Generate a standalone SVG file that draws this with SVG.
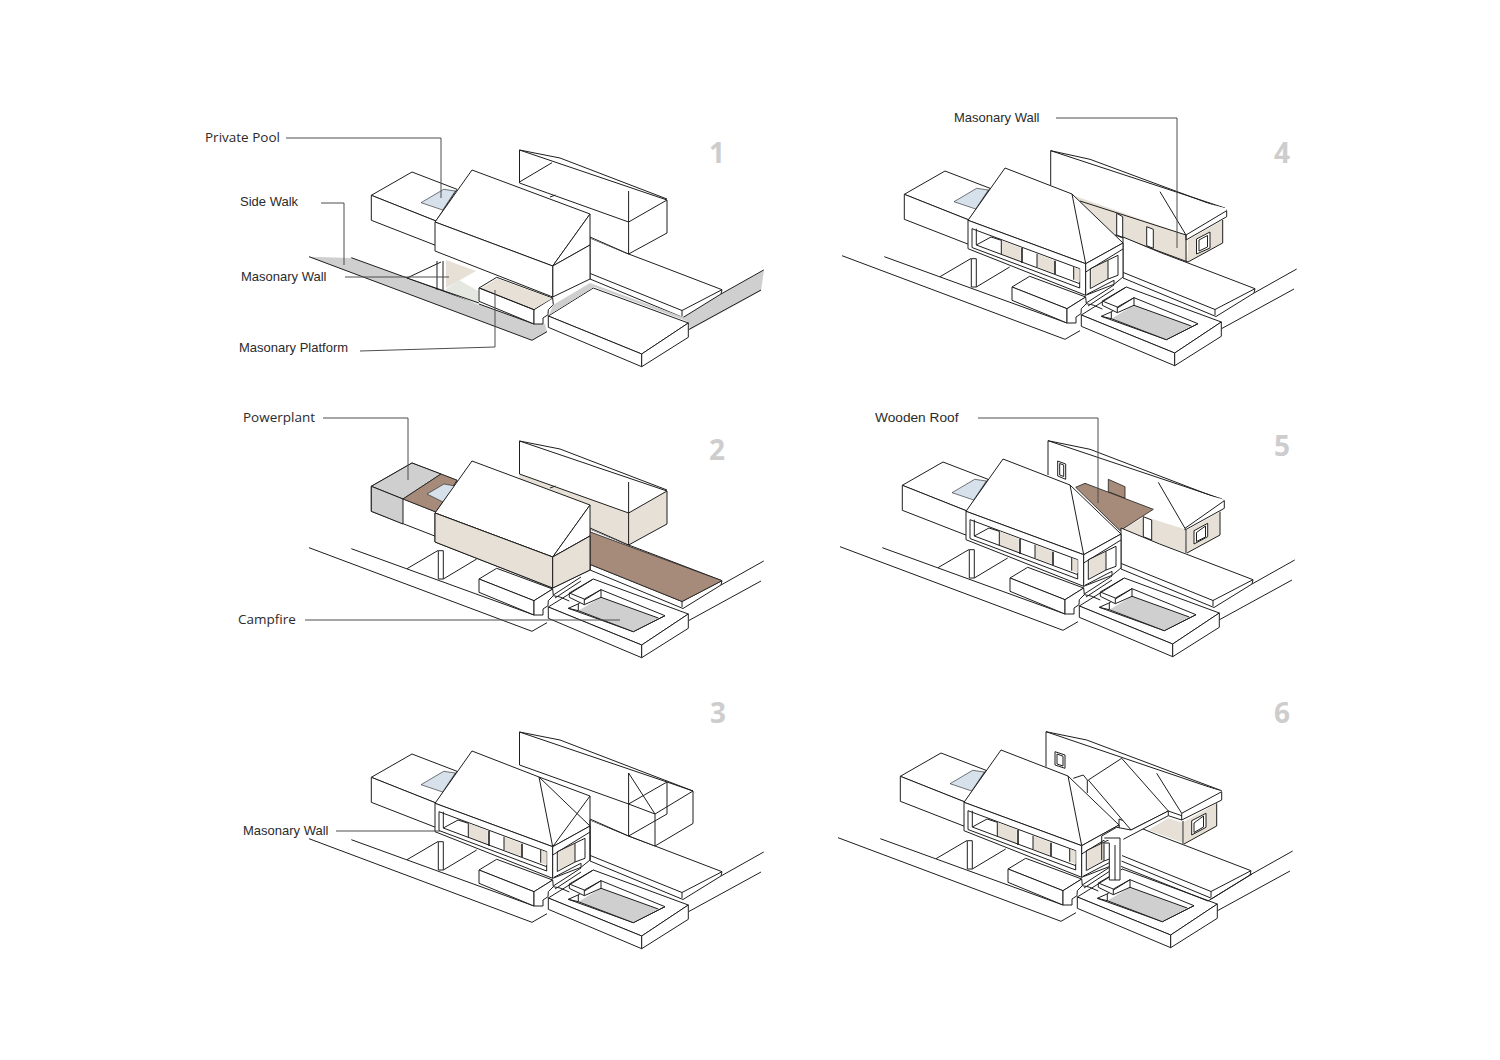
<svg xmlns="http://www.w3.org/2000/svg" width="1500" height="1060" viewBox="0 0 1500 1060">
<style>
.s{fill:none;stroke:#1e1e1e;stroke-width:1;stroke-linejoin:round}
.d{fill:none;stroke:#1e1e1e;stroke-width:1.6}
.f{fill:#fff;stroke:#1e1e1e;stroke-width:1;stroke-linejoin:round}
.w{fill:#fff;stroke:none}
.t{fill:#e7e0d6;stroke:none}
.tl{fill:#e7e0d6;stroke:#1e1e1e;stroke-width:1;stroke-linejoin:round}
.b{fill:#a78b7a;stroke:#1e1e1e;stroke-width:.8}
.g{fill:#cfcfcf;stroke:none}
.gl{fill:#cfcfcf;stroke:#1e1e1e;stroke-width:1}
.k{fill:#d6e1ec;stroke:#1e1e1e;stroke-width:.6}
.le{fill:none;stroke:#4d4d4d;stroke-width:1}
.a{font-family:"Liberation Sans",Arial,sans-serif;font-size:13px;fill:#2b2b2b}
.r{font-size:13.7px}
.o{font-family:"Open Sans","Noto Sans",sans-serif;font-size:13.5px;fill:#2b2b2b}
.n{font-family:"Open Sans","Noto Sans",sans-serif;font-size:28px;font-weight:700;fill:#cdcdcd;text-anchor:middle}
</style>
<defs>
<g id="roads"><path class="s" d="M309 838.7L532 922.3L547 913.7M351.3 839.7L534 906M721 876L763.7 852M688.5 911.7L761 872"/></g>
<g id="deck">
<path class="f" d="M590 820L628.6 836L655 846L722 871.7L721 876L683 899.5L590 861Z"/>
<path class="s" d="M590.3 855.5L682 892.5L722 871.7M682 892.5V898"/>
</g>
<g id="annex">
<path class="f" d="M371.3 777.3L412 754L457 771.3L436 803Z"/>
<path class="f" d="M371.3 777.3L436 803V827.5L371.3 802.3Z"/>
</g>
<path id="sky" class="k" d="M421 784.7L443.7 771.3L455.3 773L442.7 792Z"/>
<g id="carport">
<path class="s" d="M407 859.7L438 841.5M443.3 870L476.7 850"/>
<path class="f" d="M438.3 841.7H443.3V870H438.3Z"/>
</g>
<g id="platform">
<path class="f" d="M479 870L496.7 859.3L552.7 880L534 891.7Z"/>
<path class="f" d="M479 870L534 891.7V906L479 883.3Z"/>
<path class="f" d="M534 891.7L552.7 880L553.3 886.7L548.3 891.7L548 896.7L543 900V906H534Z"/>
</g>
<g id="poolbox">
<path class="f" d="M548.3 898L593.3 870L688.3 905L641.7 936Z"/>
<path class="f" d="M548.3 898L641.7 936V948.7L548.3 909.3Z"/>
<path class="f" d="M641.7 936L688.3 905V919.3L641.7 948.7Z"/>
</g>
<g id="poolrim">
<path class="s" d="M553.3 886L581 868M555 889L581 872M553.3 886.7L560 888L569.3 892"/>
<path class="f" d="M601 880.7L665 906.7L633.3 922.7L568.3 899.3L578 895Z"/>
<path class="g" d="M601 888.3L658.3 909L633.3 922.7L578.3 901.7Z"/>
<path class="s" d="M601 880.7V888.3L658.3 909M601 888.3L584.3 895.7M578.3 895V901.7L633.3 922.7L665 906.7M568.3 899.3L578.3 901.7"/>
<path class="f" d="M569.3 884L584.3 890V895.7L569.3 888.3Z"/>
<path class="s" d="M569.3 884L593.3 870M584.3 890L601 880.7"/>
</g>
<g id="gable">
<path class="f" d="M472 752L590 796L552.7 848L435 804Z"/>
<path class="f" d="M590 796L552.7 848L590 827Z"/>
<path class="f" d="M552.7 848L590 827V861L552.7 879Z"/>
<path class="f" d="M435 804L552.7 848V879L435 833Z"/>
</g>
<g id="wingfill"><path class="w" d="M519.5 732L560 740L667 781V815L628.6 836L590 820L519.5 790Z"/></g>
<g id="winglines"><path class="s" d="M519.5 732V765M519.5 732L560 740L667 781M519.5 732L667 782M628.6 773V836M628.6 804L667 782V815L628.6 836L590 819M519.5 765L628.6 804M550 779L555.5 777"/></g>
<g id="hip">
<path class="f" d="M472 751L539 777L590 826L552.7 846.7L435 803.3Z"/>
<path class="s" d="M539 777L552.7 846.7"/>
<path class="f" d="M435 803.3L552.7 846.7V878.3L435 831.7Z"/>
<path class="f" d="M552.7 846.7L590 826V860L581 867.3L552.7 878.3Z"/>
<path class="f" d="M439 811.7L546.7 851.7V871L439 830.5Z"/>
<path class="t" d="M468.3 823.3L487.7 830.7V845L468.3 837.3Z"/>
<path class="t" d="M504 836.7L521 843.3V856L504 850Z"/>
<path class="t" d="M540.7 850L546.7 852.3V865L540.7 862.7Z"/>
<path class="s" d="M443.3 811.7V828M443.3 828L458 820L468.3 823.3M443.3 828L546.7 866.7M468.3 823.3V837.3M504 836.7V850M540.7 850V862.7"/>
<path class="d" d="M489 831V846M522 843.7V857"/>
<path class="s" d="M552.7 855L590 832M557.3 851.7V871.5"/>
<path class="t" d="M558.3 851.7L575 843.3V861.7L558.3 870Z"/>
<path class="s" d="M557.3 871.5L575 862L585 858.3V838.3L557.3 851.7M575 843.3V862M554 877.3L581 863.3V867.3"/>
</g>
</defs>

<g id="panel-1">
<g transform="translate(0,-582)">
<path class="g" d="M309 838.7L352 840L534 906H545L547 913.7L532 922.3Z"/>
<path class="g" d="M683 899L721 876L764 852L761 873L690 912L689 906Z"/>
<use href="#roads"/><use href="#deck"/>
<use href="#wingfill"/><use href="#winglines"/>
<path class="s" d="M520 763.7L552 744.7"/>
<use href="#annex"/><use href="#sky"/>
<path class="w" d="M407 859.7L437 842H445L479 852V887L445 873Z"/>
<path class="t" d="M446 842L476 853L446 870Z"/>
<path d="M445 872L459 862L478 873V887Z" fill="#e5e7e1"/>
<path class="s" d="M407 860L441 844M407 860L479 885"/>
<path class="s" d="M437 843V872M443 843V872"/>
<use href="#platform"/>
<path class="t" d="M481 870.5L497 860.5L552 880.5L534 891Z"/>
<path class="s" d="M481 870.5L534 891.7"/>
<use href="#poolbox"/>
<path class="g" d="M553 887L590 865L683 899L689 904L594 869L549 897Z"/>
<use href="#gable"/>
</g>
<path class="le" d="M286 138H441V198M321 203H344V265M345 277H449M360 351L495 347V290"/>
<text class="o" x="205" y="142">Private Pool</text>
<text class="a" x="240" y="206">Side Walk</text>
<text class="a" x="241" y="281">Masonary Wall</text>
<text class="a" x="239" y="352">Masonary Platform</text>
<text class="n" x="717" y="163">1</text>
</g>

<g id="panel-2">
<g transform="translate(0,-291)">
<use href="#roads"/><use href="#deck"/>
<path class="b" d="M589 822.5L722 871.7L682 892.5L589 855Z"/>
<use href="#wingfill"/>
<path class="t" d="M519.5 765L628.6 804V836L590 820L519.5 790Z"/>
<path class="t" d="M628.6 804L667 782V815L628.6 836Z"/>
<use href="#winglines"/>
<use href="#annex"/>
<path class="gl" d="M371.3 777.3L412 754L441 765L403 790Z"/>
<path class="gl" d="M371.3 777.3L403 790V815L371.3 802.3Z"/>
<path class="b" d="M403 790L441 765L457 771.3L436 803Z"/>
<path class="k" d="M427 785L444 775L455 777L443 793Z"/>
<use href="#carport"/><use href="#platform"/><use href="#poolbox"/><use href="#poolrim"/>
<use href="#gable"/>
<path class="tl" d="M435 804L552.7 848V879L435 833Z"/>
<path class="tl" d="M552.7 848L590 827V861L552.7 879Z"/>
</g>
<path class="le" d="M323 418H408V480M305 620H620"/>
<text class="o" x="243" y="422">Powerplant</text>
<text class="o" x="238" y="624">Campfire</text>
<text class="n" x="717" y="460">2</text>
</g>

<g id="panel-3">
<use href="#roads"/><use href="#deck"/>
<path class="w" d="M519.5 732L560 740L693 791V823.5L655 846L590 820L519.5 790Z"/>
<path class="s" d="M519.5 732V765M519.5 732L560 740L693 791M519.5 732L667 782M628.6 773V836M628.6 804L667 782V814L628.6 836L590 819M519.5 765L628.6 804L655 814L693 791V823.5L655 846V814M628.6 773L655 814M628.6 836L655 846M667 782L693 791"/>
<use href="#annex"/><use href="#sky"/>
<use href="#carport"/><use href="#platform"/><use href="#poolbox"/><use href="#poolrim"/>
<use href="#hip"/>
<path class="s" d="M539 777L590 796L552.7 846.7M590 796V860"/>
<path class="le" d="M336 831H440"/>
<text class="a" x="243" y="835">Masonary Wall</text>
<text class="n" x="718" y="723">3</text>
</g>

<g id="panel-4">
<path class="w" d="M1050.7 150.7L1090 159.3L1226.7 210V216.7L1188 262L1115 235L1050.7 190Z"/>
<path class="s" d="M1050.7 150.7V185M1050.7 150.7L1090 159.3L1226.7 210M1050.7 150.7L1225 208"/>
<path class="t" d="M1075 196L1186 235L1188 262L1100 230Z"/>
<path class="t" d="M1188 240L1222.7 220V243L1188 262Z"/>
<path class="w" d="M1160 191.7L1225 208L1226.7 210V216.7L1186 240V235Z"/>
<path class="s" d="M1160 191.7L1186 235L1226.7 210.7V216.7L1186 240V235M1080 201L1186 235V262M1222.7 220V243L1188 262L1115 235"/>
<path class="f" d="M1116.7 213.3L1122.7 216.7V237.3L1116.7 235Z"/>
<path class="f" d="M1146.7 226.7L1153.3 229.3V248.3L1146.7 245.7Z"/>
<path class="f" d="M1196.5 239L1210 232V248L1196.5 254Z"/>
<path class="s" d="M1199 240V251L1207.5 247V235.5Z"/>
<g transform="translate(533,-583)">
<use href="#roads"/><use href="#deck"/>
<use href="#annex"/><use href="#sky"/>
<use href="#carport"/><use href="#platform"/><use href="#poolbox"/><use href="#poolrim"/>
<use href="#hip"/>
</g>
<path class="le" d="M1056 118H1177V248"/>
<text class="a" x="954" y="122">Masonary Wall</text>
<text class="n" x="1282" y="163">4</text>
</g>

<g id="panel-5">
<path class="w" d="M1048 440.7L1090 449.3L1224.3 500.7V508.3L1187 553L1100 520L1048 480Z"/>
<path class="s" d="M1048 440.7V475M1048 440.7L1090 449.3L1224.3 500.7M1048 440.7L1222 499"/>
<path class="f" d="M1057.7 461L1065.7 464V479.3L1057.7 476Z"/>
<path class="s" d="M1059.7 463.5L1063.7 465V476.5L1059.7 475Z"/>
<path class="t" d="M1120 530L1145 516.7L1185 529.3L1186.7 553Z"/>
<path class="t" d="M1187 530L1220 511.7V535L1187 553Z"/>
<path class="w" d="M1158.3 482.3L1222 499L1224.3 500.7V508.3L1185 530V528.3Z"/>
<path class="s" d="M1158.3 482.3L1185 528.3L1224.3 500.7V508.3L1185 530V528.3M1220 511.7V535L1187 553M1186 530V553"/>
<path class="f" d="M1143.3 516.7L1151.7 520V540L1143.3 536.7Z"/>
<path class="f" d="M1194 530.7L1207.7 523.3V536.7L1194 544Z"/>
<path class="s" d="M1196.5 532.5V541.5L1205.5 537V526Z"/>
<path class="b" d="M1108.3 479.3L1125 486.7V498.3L1108.3 491.7Z"/>
<path class="b" d="M1075.7 487.3L1085 483.3L1153.3 509.3L1120 530.7Z"/>
<g transform="translate(531,-292)">
<use href="#roads"/><use href="#deck"/>
<use href="#annex"/><use href="#sky"/>
<use href="#carport"/><use href="#platform"/><use href="#poolbox"/><use href="#poolrim"/>
<use href="#hip"/>
</g>
<path class="le" d="M978 418H1098V503"/>
<text class="a r" x="875" y="422">Wooden Roof</text>
<text class="n" x="1282" y="456">5</text>
</g>

<g id="panel-6">
<path class="w" d="M1046 731.7L1086.7 740L1221.7 790.7V800L1184 844L1130 820L1046 770Z"/>
<path class="s" d="M1046 731.7V766.7M1046 731.7L1086.7 740L1221.7 790.7M1046 731.7L1220 790.7"/>
<path class="f" d="M1055 751.7L1065 755V768.3L1055 765Z"/>
<path class="s" d="M1057 754L1063 756.2V766L1057 764Z"/>
<path class="t" d="M1148.3 830L1168.3 818.3L1182.7 822.7V842.7Z"/>
<path class="t" d="M1184 821.7L1216.7 803.3V826L1184 844Z"/>
<path class="w" d="M1156.7 773.3L1220 790.7L1221.7 791.7V800L1181.7 820L1168 815V811L1181.7 813.3Z"/>
<path class="s" d="M1156.7 773.3L1181.7 813.3L1221.7 791.7V800L1181.7 820V813.3M1168.3 811L1181.7 815.7M1168.3 815.7L1181.7 820M1216.7 803.3V826L1184 844M1183 821V844"/>
<path class="f" d="M1191.7 820.7L1206 813.3V827.3L1191.7 835Z"/>
<path class="s" d="M1194 823V832.5L1203.5 827V816Z"/>
<g transform="translate(529,-1)">
<use href="#roads"/><use href="#deck"/>
<use href="#annex"/><use href="#sky"/>
<use href="#carport"/><use href="#platform"/><use href="#poolbox"/><use href="#poolrim"/>
<use href="#hip"/>
</g>
<path class="s" d="M1120 866L1208 901L1252 874"/>
<path class="f" d="M1121.7 758.3L1088.3 780L1131 830L1168.3 811Z"/>
<path class="w" d="M1101.7 836L1116.7 827.3L1131 830L1168.3 811V815.7L1123.3 839.3L1120 880H1109.3V840L1101.7 840Z"/>
<path class="s" d="M1101.7 836L1116.7 827.3L1131 830L1168.3 811V815.7L1123.3 839.3M1101.7 836V860M1104.3 838H1120V880H1109.3V843H1104.3M1115 845V880M1073.3 778.3L1083.3 775L1087.3 780V793"/>
<text class="n" x="1282" y="723">6</text>
</g>
</svg>
